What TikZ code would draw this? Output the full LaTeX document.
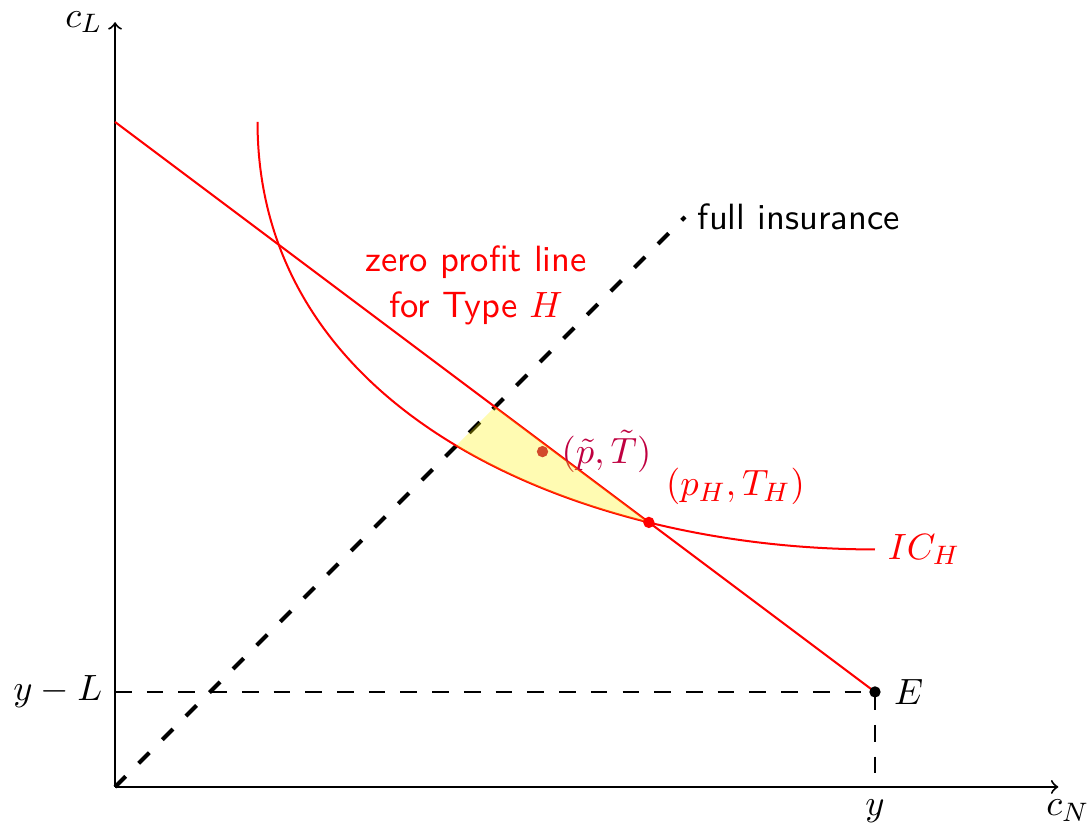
\documentclass[tikz,border=0pt,11pt]{standalone}
\usepackage{amsmath}
\usetikzlibrary{intersections,positioning,calc}

\begin{document}
\begin{tikzpicture}[
  axis/.style={->, semithick},
  curve/.style={red, semithick},
  guide/.style={semithick, dash pattern=on 5pt off 4.5pt},
  diag/.style={very thick, dash pattern=on 4.5pt off 5.5pt},
  dot/.style={circle, fill, inner sep=0pt, minimum size=3.4pt},
  note/.style={align=center, font=\sffamily}
]
\useasboundingbox (-1.211,-0.4) rectangle (10.253,8.284);

\coordinate (O) at (0,0);
\coordinate (xend) at (9.93,0);
\coordinate (yend) at (0,8.05);
\coordinate (E) at (8,1);
\coordinate (yL) at (0,1);
\coordinate (y) at (8,0);
\coordinate (zstart) at (0,7);
\coordinate (icstart) at (1.5,7);
\coordinate (icend) at (8,2.5);
\coordinate (full) at (6,6);

% axes
\draw[axis] (O) -- (xend);
\draw[axis] (O) -- (yend);
\node[left] (cL) at (yend) {$c_L$};
\node[below] (cN) at ($(xend)+(0.1,0)$) {$c_N$};

% endowment
\draw[guide] (yL) -- (E) -- (y);
\node[left] (yLlab) at (yL) {$y-L$};
\node[below] (ylab) at (y) {$y$};

\draw[diag] (O) -- (full);
\node[note, right] (fulllab) at (full) {full insurance};

\draw[curve, name path=zpl] (zstart) -- (E);
\draw[curve, name path=ich] (icstart) to[out=-90,in=180] (icend);
\path[name intersections={of=zpl and ich, sort by=zpl, by={cross,pH}}];

\node[note, red] (zpllab) at (3.8,5.28) {zero profit line\\for Type $H$};

\node[dot, purple] (ptilde) at (4.5,3.53) {};
\node[purple, right=0pt of ptilde] (ptildelab) {$(\tilde{p},\tilde{T})$};

% region preferred by H
\begin{scope}
  \clip (3,3) -- (4,4) -- (pH) -- cycle;
  \fill[yellow, fill opacity=0.3] (icstart) to[out=-90,in=180] (icend) -- (8,8) -- (1.5,8) -- cycle;
\end{scope}

\node[dot, red] (pHdot) at (pH) {};
\node[red, above right=0pt of pHdot] (pHlab) {$(p_H,T_H)$};
\node[dot] (Edot) at (E) {};
\node[right=0pt of Edot] (Elab) {$E$};
\node[red, right] (IClab) at (icend) {$IC_H$};

\end{tikzpicture}
\end{document}
